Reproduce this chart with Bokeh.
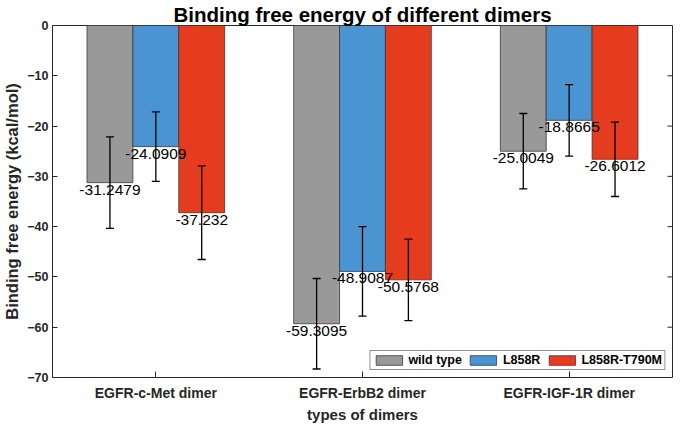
import math
from bokeh.plotting import figure
from bokeh.models import (Range1d, LinearAxis, FixedTicker, ColumnDataSource,
                          Whisker, TeeHead, Legend, LegendItem)
from bokeh.core.properties import value
from bokeh.embed import file_html
from bokeh.resources import INLINE

# ---------------- data ----------------
categories = ["EGFR-c-Met dimer", "EGFR-ErbB2 dimer", "EGFR-IGF-1R dimer"]
series_names = ["wild type", "L858R", "L858R-T790M"]
wild_type = [-31.2479, -59.3095, -25.0049]
l858r = [-24.0909, -48.9087, -18.8665]
l858r_t790m = [-37.232, -50.5768, -26.6012]
wild_type_err = [9.1, 9.0, 7.5]
l858r_err = [6.9, 8.9, 7.1]
l858r_t790m_err = [9.3, 8.1, 7.4]
y_ticks = [0, -10, -20, -30, -40, -50, -60, -70]

series_values = [wild_type, l858r, l858r_t790m]
series_errors = [wild_type_err, l858r_err, l858r_t790m_err]
colors = ["#999999", "#4a94d2", "#e53b1e"]
offsets = [-0.222, 0.0, 0.222]
bar_width = 0.222

FONT = "Liberation Sans"
AX = "#262626"
X0, X1 = 0.5, 3.5
Y0, Y1 = -70, 0

p = figure(frame_width=620, frame_height=352, x_range=Range1d(X0, X1), y_range=Range1d(Y0, Y1),
           output_backend="svg", toolbar_location=None,
           title="Binding free energy of different dimers",
           x_axis_location=None, y_axis_location=None,
           min_border_left=0, min_border_right=2, min_border_top=0, min_border_bottom=0)
p.xgrid.visible = False
p.ygrid.visible = False
p.outline_line_color = AX
p.outline_line_width = 1
p.background_fill_color = "white"
p.border_fill_color = "white"

p.title.text_font = FONT
p.title.text_font_size = "20.5px"
p.title.text_font_style = "bold"
p.title.text_color = "black"
p.title.align = "center"
p.title.standoff = 0
p.title.offset = 0

cat_pos = [i + 1 for i in range(len(categories))]

# axes
xaxis = LinearAxis(ticker=FixedTicker(ticks=cat_pos),
                   major_label_overrides={c: n for c, n in zip(cat_pos, categories)},
                   axis_label="types of dimers")
xaxis.major_tick_in = 6
xaxis.major_tick_out = 0
xaxis.minor_tick_line_color = None
xaxis.axis_line_color = None
xaxis.major_tick_line_color = AX
xaxis.major_label_text_font = FONT
xaxis.major_label_text_font_style = "bold"
xaxis.major_label_text_font_size = "14px"
xaxis.major_label_text_color = AX
xaxis.major_label_text_line_height = 1.0
xaxis.major_label_standoff = 7
xaxis.axis_label_text_font = FONT
xaxis.axis_label_text_font_style = "bold"
xaxis.axis_label_text_font_size = "15px"
xaxis.axis_label_text_color = AX
xaxis.axis_label_text_line_height = 1.0
xaxis.axis_label_standoff = 2
p.add_layout(xaxis, "below")

yaxis = LinearAxis(ticker=FixedTicker(ticks=y_ticks),
                   axis_label="Binding free energy (kcal/mol)")
yaxis.major_tick_in = 5
yaxis.major_tick_out = 0
yaxis.minor_tick_line_color = None
yaxis.axis_line_color = None
yaxis.major_tick_line_color = AX
yaxis.major_label_text_font = FONT
yaxis.major_label_text_font_style = "bold"
yaxis.major_label_text_font_size = "12.5px"
yaxis.major_label_text_color = AX
yaxis.major_label_standoff = 4
yaxis.axis_label_text_font = FONT
yaxis.axis_label_text_font_style = "bold"
yaxis.axis_label_text_font_size = "16.5px"
yaxis.axis_label_text_color = AX
yaxis.axis_label_text_line_height = 1.0
yaxis.axis_label_standoff = 3
p.add_layout(yaxis, "left")

# inward ticks on the top and right edges of the box
p.ray(x=cat_pos, y=[Y1] * len(cat_pos), length=5, length_units="screen",
      angle=-math.pi / 2, line_color=AX, line_width=1)
p.ray(x=[X1] * len(y_ticks), y=y_ticks, length=5, length_units="screen",
      angle=math.pi, line_color=AX, line_width=1)

# bars
items = []
text_x, text_y, text_s = [], [], []
err_x, err_up, err_lo = [], [], []
for name, vals, errs, col, off in zip(series_names, series_values, series_errors, colors, offsets):
    xs = [c + off for c in cat_pos]
    src = ColumnDataSource(dict(x=xs, top=[0] * len(vals), bottom=vals))
    r = p.vbar(x="x", top="top", bottom="bottom", width=bar_width, source=src,
               fill_color=col, line_color="#3a3a3a", line_width=0.8)
    items.append(LegendItem(label=name, renderers=[r]))
    for x, v, e in zip(xs, vals, errs):
        text_x.append(x)
        text_y.append(v)
        text_s.append(str(v))
        err_x.append(x)
        err_up.append(v + e)
        err_lo.append(v - e)

p.text(x=text_x, y=text_y, text=text_s, text_align="center", text_baseline="top",
       y_offset=2, text_font=value(FONT), text_font_size="15.5px", text_color="black")

esrc = ColumnDataSource(dict(x=err_x, upper=err_up, lower=err_lo))
wh = Whisker(base="x", upper="upper", lower="lower", source=esrc,
             line_color="black", line_width=1.3, level="annotation",
             upper_head=TeeHead(size=8, line_color="black", line_width=1.3),
             lower_head=TeeHead(size=8, line_color="black", line_width=1.3))
p.add_layout(wh)

legend = Legend(items=items, location="bottom_right", orientation="horizontal")
legend.label_text_font = FONT
legend.label_text_font_style = "bold"
legend.label_text_font_size = "12.5px"
legend.label_text_color = "black"
legend.glyph_width = 33
legend.glyph_height = 12
legend.label_height = 12
legend.label_standoff = 3
legend.spacing = 5
legend.padding = 2
legend.margin = 7
legend.border_line_color = AX
legend.border_line_width = 1
legend.background_fill_alpha = 1
p.add_layout(legend)

open("out.html", "w").write(file_html(p, INLINE))
